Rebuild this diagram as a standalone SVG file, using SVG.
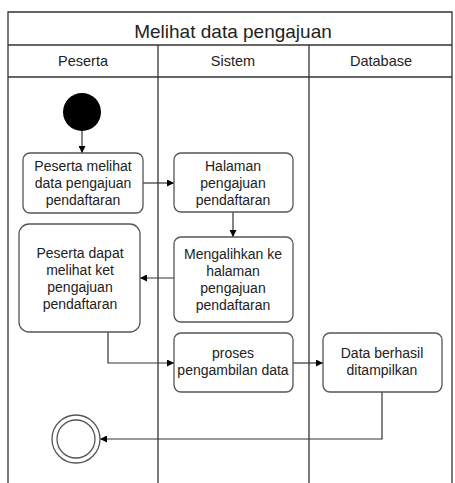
<svg xmlns="http://www.w3.org/2000/svg" width="455" height="483" viewBox="0 0 455 483">
  <defs>
    <marker id="arrow" viewBox="0 0 10 10" refX="10" refY="5" markerWidth="7" markerHeight="7" orient="auto-start-reverse" markerUnits="userSpaceOnUse">
      <path d="M0,0 L10,5 L0,10 z" fill="#000"/>
    </marker>
  </defs>
  <style>
    text { font-family: "Liberation Sans", Arial, sans-serif; fill: #222; text-anchor: middle; }
    .lane { fill: none; stroke: #333; stroke-width: 1.3; }
    .act { fill: #fff; stroke: #555; stroke-width: 1.3; }
    .lbl { font-size: 14px; }
    .hdr { font-size: 14.5px; }
    .edge { fill: none; stroke: #333; stroke-width: 1.2; marker-end: url(#arrow); }
  </style>
  <rect width="455" height="483" fill="#fff"/>

  <!-- swimlane pool -->
  <g id="pool">
    <path class="lane" d="M8,483 V12 H452 V483"/>
    <line class="lane" x1="8" y1="45" x2="452" y2="45"/>
    <line class="lane" x1="8" y1="77" x2="452" y2="77"/>
    <line class="lane" x1="158" y1="45" x2="158" y2="483"/>
    <line class="lane" x1="309" y1="45" x2="309" y2="483"/>
    <text x="233" y="38" font-size="19px">Melihat data pengajuan</text>
    <text class="hdr" x="83" y="66">Peserta</text>
    <text class="hdr" x="233" y="66">Sistem</text>
    <text class="hdr" x="381" y="66">Database</text>
  </g>

  <!-- connectors -->
  <g id="edges">
    <line class="edge" x1="82" y1="131" x2="82" y2="153"/>
    <line class="edge" x1="143" y1="183" x2="174" y2="183"/>
    <line class="edge" x1="233" y1="212" x2="233" y2="237"/>
    <line class="edge" x1="174" y1="278" x2="140" y2="278"/>
    <path class="edge" d="M108,332 V363 H174"/>
    <line class="edge" x1="293" y1="363" x2="323" y2="363"/>
    <path class="edge" d="M382,392 V439 H100"/>
  </g>

  <g id="start">
    <circle cx="82" cy="112" r="19" fill="#000"/>
  </g>

  <g id="peserta-melihat">
    <rect class="act" x="23" y="153" width="120" height="60" rx="7"/>
    <text class="lbl" x="83" y="171">Peserta melihat</text>
    <text class="lbl" x="83" y="188">data pengajuan</text>
    <text class="lbl" x="83" y="205">pendaftaran</text>
  </g>

  <g id="halaman-pengajuan">
    <rect class="act" x="174" y="153" width="119" height="59" rx="7"/>
    <text class="lbl" x="233" y="171">Halaman</text>
    <text class="lbl" x="233" y="188">pengajuan</text>
    <text class="lbl" x="233" y="205">pendaftaran</text>
  </g>

  <g id="mengalihkan">
    <rect class="act" x="174" y="237" width="119" height="85" rx="7"/>
    <text class="lbl" x="233" y="259">Mengalihkan ke</text>
    <text class="lbl" x="233" y="276">halaman</text>
    <text class="lbl" x="233" y="293">pengajuan</text>
    <text class="lbl" x="233" y="310">pendaftaran</text>
  </g>

  <g id="peserta-dapat">
    <rect class="act" x="19" y="224" width="121" height="108" rx="10"/>
    <text class="lbl" x="80" y="258">Peserta dapat</text>
    <text class="lbl" x="80" y="275">melihat ket</text>
    <text class="lbl" x="80" y="292">pengajuan</text>
    <text class="lbl" x="80" y="309">pendaftaran</text>
  </g>

  <g id="proses-pengambilan">
    <rect class="act" x="174" y="333" width="119" height="59" rx="7"/>
    <text class="lbl" x="233" y="358">proses</text>
    <text class="lbl" x="233" y="375">pengambilan data</text>
  </g>

  <g id="data-ditampilkan">
    <rect class="act" x="323" y="333" width="119" height="59" rx="7"/>
    <text class="lbl" x="382" y="358">Data berhasil</text>
    <text class="lbl" x="382" y="375">ditampilkan</text>
  </g>

  <g id="end">
    <circle cx="76" cy="439" r="24" fill="#fff" stroke="#555" stroke-width="1.3"/>
    <circle cx="76" cy="439" r="19" fill="#fff" stroke="#555" stroke-width="1.3"/>
  </g>
</svg>
